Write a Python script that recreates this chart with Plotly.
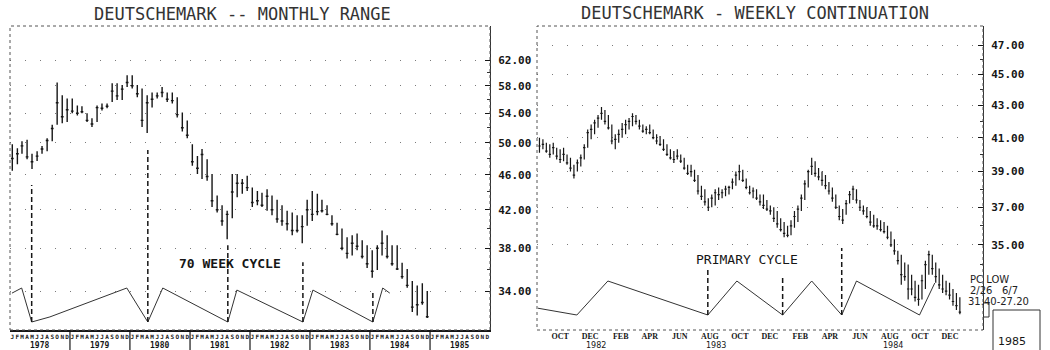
import pandas as pd
import plotly.graph_objects as go

# ---------------- Monthly range, Jan 1978 - Dec 1984 (cents per mark) ----------------
monthly_high = [49.8, 49.3, 50.2, 50.4, 48.6, 48.9, 49.6, 50.6, 52.4, 58.5, 56.6, 56.1,
                56.1, 55.1, 55.0, 54.0, 53.3, 55.1, 55.4, 55.4, 58.4, 58.4, 58.1, 59.6,
                59.6, 58.1, 57.6, 56.6, 57.0, 57.0, 57.8, 57.0, 57.0, 56.3, 54.1, 53.0,
                49.8, 48.3, 49.2, 47.9, 46.1, 43.6, 42.5, 41.9, 46.1, 46.1, 45.5, 45.9,
                44.5, 44.1, 43.9, 44.3, 43.6, 43.1, 42.5, 41.9, 41.7, 41.4, 41.4, 43.1,
                44.1, 43.8, 43.1, 42.5, 41.4, 40.6, 40.0, 39.1, 39.3, 39.5, 38.8, 38.3,
                37.8, 38.3, 39.8, 39.3, 38.3, 38.3, 36.6, 36.0, 34.9, 34.5, 34.7, 34.0]
monthly_low = [46.5, 47.3, 48.6, 47.9, 46.7, 47.7, 48.6, 48.9, 50.2, 52.4, 52.6, 52.8,
               54.0, 53.7, 54.0, 52.8, 52.1, 52.8, 54.4, 54.7, 55.6, 55.9, 55.9, 57.8,
               57.6, 56.3, 52.1, 51.3, 54.8, 56.1, 56.3, 55.6, 55.4, 53.4, 51.5, 50.6,
               47.1, 46.1, 45.5, 45.3, 42.3, 41.7, 40.3, 38.9, 41.1, 43.4, 43.8, 44.1,
               42.3, 42.5, 42.3, 41.9, 41.4, 40.6, 40.3, 39.8, 39.3, 39.6, 38.5, 40.3,
               40.8, 41.4, 41.7, 41.4, 40.3, 39.3, 37.8, 37.0, 37.3, 37.8, 37.0, 36.1,
               35.2, 35.9, 37.3, 37.0, 36.3, 35.9, 35.1, 34.3, 32.2, 31.9, 32.8, 31.7]
monthly_close = [48.0, 48.6, 49.6, 48.2, 47.6, 48.3, 49.2, 50.3, 51.9, 55.5, 53.5, 54.5,
                 54.3, 54.0, 54.2, 53.0, 52.5, 54.8, 54.7, 55.0, 57.2, 56.5, 57.5, 58.5,
                 58.0, 56.8, 53.0, 55.5, 56.0, 56.5, 57.0, 56.0, 55.8, 53.8, 52.0, 51.0,
                 47.6, 46.8, 48.5, 45.8, 43.0, 42.0, 40.8, 41.5, 44.0, 45.0, 45.0, 44.5,
                 42.8, 43.0, 42.5, 43.5, 42.0, 41.0, 40.8, 40.5, 39.8, 39.8, 40.2, 42.0,
                 41.5, 41.8, 41.9, 41.5, 40.5, 39.4, 38.0, 37.5, 38.5, 38.2, 37.2, 36.5,
                 35.8, 38.0, 38.5, 37.2, 36.5, 36.0, 35.3, 34.5, 32.6, 32.8, 33.0, 31.8]

# ---------------- Weekly continuation, Aug 1982 - Dec 1984 ----------------
weekly_high = [41.0, 40.9, 40.7, 40.6, 40.7, 40.4, 40.3, 40.4, 40.0, 39.8,
               39.4, 39.7, 40.0, 40.6, 41.5, 41.8, 42.1, 42.4, 42.9, 42.7,
               42.4, 41.8, 41.2, 41.5, 41.9, 42.1, 42.2, 42.5, 42.4, 42.1,
               41.8, 41.7, 41.8, 41.5, 41.2, 41.1, 40.9, 40.6, 40.3, 40.2,
               40.3, 40.0, 39.8, 39.4, 39.4, 39.1, 38.8, 38.2, 38.0, 37.5,
               37.7, 38.0, 38.1, 38.0, 38.2, 38.2, 38.6, 39.0, 39.4, 39.1,
               38.6, 38.2, 38.1, 38.0, 37.7, 37.7, 37.4, 37.1, 37.0, 36.8,
               36.4, 36.2, 36.0, 36.3, 36.8, 37.1, 37.7, 38.5, 39.1, 39.8,
               39.6, 39.2, 39.0, 38.8, 38.4, 38.1, 37.7, 37.1, 36.9, 37.4,
               37.9, 38.2, 38.0, 37.4, 37.1, 37.0, 36.8, 36.6, 36.4, 36.3,
               36.2, 36.0, 35.7, 35.3, 34.7, 34.5, 34.1, 34.0, 33.5, 33.2,
               33.0, 33.5, 34.2, 34.7, 34.5, 34.1, 33.8, 33.5, 33.2, 33.1,
               32.8, 32.6, 32.4]
weekly_low = [40.1, 40.3, 40.1, 39.8, 40.0, 39.7, 39.5, 39.6, 39.4, 39.0,
              38.6, 39.0, 39.3, 39.7, 40.4, 40.9, 41.2, 41.6, 42.1, 41.8,
              41.5, 40.6, 40.3, 40.7, 41.0, 41.2, 41.5, 41.7, 41.8, 41.5,
              41.3, 41.2, 41.2, 40.9, 40.6, 40.5, 40.2, 39.9, 39.7, 39.5,
              39.7, 39.5, 39.1, 38.8, 38.7, 38.4, 37.7, 37.4, 37.1, 36.8,
              37.0, 37.1, 37.4, 37.5, 37.6, 37.7, 38.0, 38.2, 38.5, 38.4,
              38.0, 37.7, 37.5, 37.4, 37.1, 36.9, 36.8, 36.6, 36.2, 35.9,
              35.7, 35.4, 35.4, 35.5, 35.9, 36.2, 36.8, 37.4, 38.1, 38.8,
              38.7, 38.5, 38.2, 38.0, 37.7, 37.3, 36.9, 36.3, 36.1, 36.6,
              37.2, 37.4, 37.2, 36.8, 36.6, 36.4, 36.0, 35.9, 35.8, 35.7,
              35.6, 35.3, 34.9, 34.5, 34.0, 33.0, 33.2, 32.3, 32.5, 32.2,
              32.0, 32.3, 32.8, 33.5, 33.5, 33.1, 32.8, 32.6, 32.5, 32.3,
              32.0, 31.8, 31.6]
weekly_close = [40.5, 40.6, 40.2, 40.0, 40.4, 39.9, 39.7, 40.0, 39.5, 39.2,
                38.8, 39.5, 39.8, 40.4, 41.3, 41.5, 41.9, 42.2, 42.5, 42.0,
                41.6, 40.8, 40.9, 41.2, 41.5, 41.8, 42.0, 42.3, 42.0, 41.7,
                41.4, 41.5, 41.3, 41.0, 40.8, 40.6, 40.3, 40.0, 39.8, 39.7,
                39.9, 39.6, 39.2, 38.9, 39.0, 38.5, 37.9, 37.6, 37.3, 37.0,
                37.5, 37.8, 37.7, 37.8, 38.0, 38.1, 38.4, 38.8, 39.0, 38.5,
                38.1, 37.8, 37.9, 37.5, 37.3, 37.1, 36.9, 36.8, 36.4, 36.1,
                35.8, 35.6, 35.5, 36.0, 36.5, 36.9, 37.5, 38.3, 39.0, 39.3,
                38.9, 38.7, 38.5, 38.2, 37.9, 37.5, 37.0, 36.5, 36.3, 37.2,
                37.7, 38.0, 37.4, 37.0, 36.8, 36.5, 36.2, 36.0, 36.0, 35.8,
                35.7, 35.4, 35.0, 34.7, 34.2, 33.5, 33.4, 32.8, 32.8, 32.4,
                32.3, 33.2, 34.0, 34.5, 33.8, 33.4, 33.0, 32.8, 32.7, 32.5,
                32.2, 32.0, 31.7]

# ---------------- Cycle diagrams (0 = cycle low, 1 = cycle crest) ----------------
cycle70_dates = ["1978-01-13", "1978-03-13", "1978-05-13", "1978-09-01", "1979-12-13",
                 "1980-04-19", "1980-07-19", "1981-08-19", "1981-10-13", "1982-11-19",
                 "1983-01-19", "1984-01-19", "1984-03-19", "1984-05-01"]
cycle70_level = [0.85, 1.0, 0.0, 0.15, 1.0, 0.0, 1.0, 0.0, 0.94, 0.0, 0.94, 0.0, 1.0, 0.85]

primary_dates = ["1982-08-17", "1982-11-04", "1983-01-06", "1983-07-28", "1983-09-25",
                 "1983-12-27", "1984-02-24", "1984-04-25", "1984-05-25", "1984-09-30",
                 "1984-10-31"]
primary_level = [0.2, 0.0, 1.0, 0.0, 1.0, 0.0, 1.0, 0.0, 1.0, 0.0, 0.94]

# ---------------- Axis labels ----------------
left_ticks = [34, 38, 42, 46, 50, 54, 58, 62]
right_ticks = [35, 37, 39, 41, 43, 45, 47]
month_letters = list("JFMAMJJASOND") * 8
left_years = ["1978", "1979", "1980", "1981", "1982", "1983", "1984", "1985"]
week_month_dates = ["1982-10-01", "1982-12-01", "1983-02-01", "1983-04-01", "1983-06-01",
                    "1983-08-01", "1983-10-01", "1983-12-01", "1984-02-01", "1984-04-01",
                    "1984-06-01", "1984-08-01", "1984-10-01", "1984-12-01"]
week_month_names = ["OCT", "DEC", "FEB", "APR", "JUN", "AUG", "OCT", "DEC",
                    "FEB", "APR", "JUN", "AUG", "OCT", "DEC"]
week_year_dates = ["1982-12-13", "1983-08-13", "1984-08-08"]
week_year_names = ["1982", "1983", "1984"]

months = pd.date_range("1978-01-01", periods=len(monthly_high), freq="MS") + pd.Timedelta(days=14)
weeks = pd.date_range("1982-08-20", periods=len(weekly_high), freq="7D")
month_ticks = pd.date_range("1978-01-01", periods=len(month_letters), freq="MS") + pd.Timedelta(days=14)
year_mid = [f"{y}-07-01" for y in left_years]
year_bounds = [f"{y}-01-01" for y in range(1979, 1986)]

INK = "#161616"
W, H = 1050, 350
MT, MB = 26, 20
PH = H - MT - MB


def py(pix):
    """Convert a pixel row of the page to a paper coordinate."""
    return (H - MB - pix) / PH


fig = go.Figure()

fig.add_trace(go.Ohlc(
    x=months, open=monthly_close, high=monthly_high, low=monthly_low, close=monthly_close,
    xaxis="x", yaxis="y", tickwidth=0.3,
    increasing=dict(line=dict(color=INK, width=1.4)),
    decreasing=dict(line=dict(color=INK, width=1.4)),
    showlegend=False, hoverinfo="skip"))
fig.add_trace(go.Scatter(
    x=cycle70_dates, y=cycle70_level, xaxis="x", yaxis="y3", mode="lines",
    line=dict(color="#333", width=1), showlegend=False, hoverinfo="skip"))

fig.add_trace(go.Ohlc(
    x=weeks, open=weekly_close, high=weekly_high, low=weekly_low, close=weekly_close,
    xaxis="x2", yaxis="y2", tickwidth=0.35,
    increasing=dict(line=dict(color=INK, width=1.2)),
    decreasing=dict(line=dict(color=INK, width=1.2)),
    showlegend=False, hoverinfo="skip"))
fig.add_trace(go.Scatter(
    x=primary_dates, y=primary_level, xaxis="x2", yaxis="y4", mode="lines",
    line=dict(color="#333", width=1), showlegend=False, hoverinfo="skip"))

tick_font = dict(family="DejaVu Sans Mono", size=11, color=INK, weight="bold")
grid = dict(showgrid=True, gridcolor="#7a7a7a", griddash="1px,14px", gridwidth=1)

fig.update_layout(
    width=W, height=H, margin=dict(l=0, r=0, t=MT, b=MB),
    paper_bgcolor="white", plot_bgcolor="white", showlegend=False,
    xaxis=dict(domain=[10 / W, 490 / W], type="date", range=["1978-01-01", "1986-01-01"],
               anchor="y", tickmode="array", tickvals=month_ticks, ticktext=month_letters,
               tickangle=0, ticks="", ticklabelstandoff=0,
               tickfont=dict(family="DejaVu Sans Mono", size=6, color=INK, weight="bold"),
               showline=True, linecolor=INK, linewidth=1.5, showgrid=False, zeroline=False,
               rangeslider=dict(visible=False)),
    yaxis=dict(domain=[0, 1], type="log", range=[1.4874, 1.831], side="right", anchor="x",
               tickmode="array", tickvals=left_ticks, tickformat=".2f",
               ticks="inside", ticklen=5, tickcolor=INK, tickwidth=1.2,
               ticklabelstandoff=5, tickfont=tick_font,
               showline=True, linecolor="#333", linewidth=1, zeroline=False,
               minor=dict(tickvals=[36, 40, 44, 48, 52, 56, 60], ticks="inside",
                          ticklen=3, tickcolor="#333", showgrid=False),
               **grid),
    yaxis3=dict(overlaying="y", anchor="x", range=[-0.235, 8.706], visible=False),
    xaxis2=dict(domain=[537 / W, 983 / W], type="date", range=["1982-08-15", "1985-02-06"],
                anchor="y2", tickmode="array", tickvals=week_month_dates,
                ticktext=week_month_names, tickangle=0, ticks="", ticklabelstandoff=0,
                tickfont=dict(family="Liberation Sans Narrow", size=8, color=INK, weight="bold"),
                showline=False, showgrid=False, zeroline=False,
                rangeslider=dict(visible=False)),
    yaxis2=dict(domain=[0, 1], type="log", range=[1.4896, 1.6843], side="right", anchor="x2",
                tickmode="array", tickvals=right_ticks, tickformat=".2f",
                ticks="inside", ticklen=5, tickcolor=INK, tickwidth=1.2,
                ticklabelstandoff=5, tickfont=tick_font,
                showline=True, linecolor="#333", linewidth=1, zeroline=False,
                minor=dict(tickvals=[34, 36, 38, 40, 42, 44, 46], ticks="inside",
                           ticklen=3, tickcolor="#333", showgrid=False),
                **grid),
    yaxis4=dict(overlaying="y2", anchor="x2", range=[-0.441, 8.5], visible=False),
)

shapes = [
    dict(type="rect", xref="x domain", yref="y domain", x0=0, x1=1, y0=0, y1=1,
         line=dict(color="#555", width=1, dash="dot")),
    dict(type="rect", xref="x2 domain", yref="y2 domain", x0=0, x1=1, y0=0, y1=1,
         line=dict(color="#555", width=1, dash="dot")),
]

# dashed markers dropped onto each cycle low
left_marker_tops = [4.03, 5.06, 2.26, 1.76, 0.88]
left_lows = [d for d, v in zip(cycle70_dates, cycle70_level) if v == 0]
for d, top in zip(left_lows, left_marker_tops):
    shapes.append(dict(type="line", xref="x", yref="y3", x0=d, x1=d, y0=0, y1=top,
                       line=dict(color=INK, width=1.5, dash="5px,3px")))
right_marker_tops = [1.38, 1.18, 1.97]
right_lows = [d for d, v in zip(primary_dates, primary_level) if v == 0][1:4]
for d, top in zip(right_lows, right_marker_tops):
    shapes.append(dict(type="line", xref="x2", yref="y4", x0=d, x1=d, y0=0, y1=top,
                       line=dict(color=INK, width=1.5, dash="5px,3px")))

# year separators under the monthly chart
for d in year_bounds:
    shapes.append(dict(type="line", xref="x", yref="paper", x0=d, x1=d, y0=0, y1=py(352),
                       line=dict(color=INK, width=1.2)))

# 1985 box and bracket at the lower right
shapes.append(dict(type="rect", xref="paper", yref="paper", x0=993 / W, x1=1040 / W,
                   y0=py(360), y1=py(310), line=dict(color="#333", width=1)))
shapes.append(dict(type="path", xref="paper", yref="paper",
                   path=f"M {984 / W},{py(303)} L {989 / W},{py(303)} L {989 / W},{py(317)} "
                        f"L {984 / W},{py(317)}",
                   line=dict(color="#333", width=1)))
fig.update_layout(shapes=shapes)

title_font = dict(family="DejaVu Sans Mono", size=17, color="#333")
label_font = dict(family="DejaVu Sans Mono", size=13, color=INK)
note_font = dict(family="DejaVu Sans", size=10, color="#222")

C = dict(xanchor="center", yanchor="middle", showarrow=False)
L = dict(xanchor="left", yanchor="middle", showarrow=False)

ann = [
    dict(text="DEUTSCHEMARK -- MONTHLY RANGE", xref="paper", yref="paper",
         x=242 / W, y=py(14), font=title_font, **C),
    dict(text="DEUTSCHEMARK - WEEKLY CONTINUATION", xref="paper", yref="paper",
         x=755 / W, y=py(13), font=title_font, **C),
    dict(text="70 WEEK CYCLE", xref="x", yref="paper", x="1981-09-01", y=py(263),
         font=dict(label_font, weight="bold"), **C),
    dict(text="PRIMARY CYCLE", xref="x2", yref="paper", x="1983-10-15", y=py(259),
         font=label_font, **C),
    dict(text="PC LOW", xref="paper", yref="paper", x=968 / W, y=py(279),
         font=note_font, **L),
    dict(text="2/26   6/7", xref="paper", yref="paper", x=968 / W, y=py(290),
         font=note_font, **L),
    dict(text="31.40-27.20", xref="paper", yref="paper", x=966 / W, y=py(301),
         font=note_font, **L),
    dict(text="1985", xref="paper", yref="paper", x=996 / W, y=py(341),
         font=dict(family="DejaVu Sans", size=11, color=INK), **L),
]
for d, t in zip(year_mid, left_years):
    ann.append(dict(text=t, xref="x", yref="paper", x=d, y=py(345),
                    font=dict(family="DejaVu Sans Mono", size=8, color=INK, weight="bold"), **C))
for d, t in zip(week_year_dates, week_year_names):
    ann.append(dict(text=t, xref="x2", yref="paper", x=d, y=py(345),
                    font=dict(family="DejaVu Sans", size=8, color=INK), **C))
fig.update_layout(annotations=ann)

fig.write_html("out.html")
